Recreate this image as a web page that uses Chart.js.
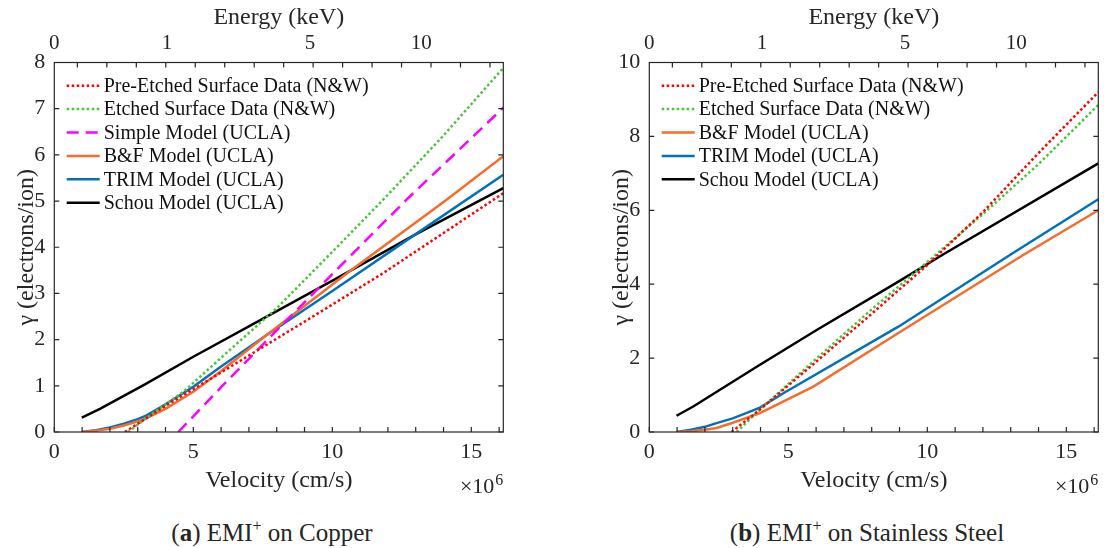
<!DOCTYPE html>
<html>
<head>
<meta charset="utf-8">
<script src="https://cdn.jsdelivr.net/npm/chart.js@4.4.1/dist/chart.umd.min.js"></script>
<style>
body{margin:0;background:#fff;width:1104px;height:548px;position:relative;overflow:hidden;font-family:"Liberation Serif",serif;color:#262626}
canvas{position:absolute;top:0}
#cu{left:0}
#ss{left:595px}
.cap{position:absolute;top:520px;font-size:25px;line-height:25px;white-space:nowrap;transform:translateX(-50%)}
.cap sup{font-size:16px;line-height:0;vertical-align:10px}
</style>
</head>
<body>
<canvas id="cu" width="509" height="500"></canvas>
<canvas id="ss" width="509" height="500"></canvas>
<div class="cap" style="left:272px">(<b>a</b>) EMI<sup>+</sup> on Copper</div>
<div class="cap" style="left:867px">(<b>b</b>) EMI<sup>+</sup> on Stainless Steel</div>
<script>
/* velocity in units of 1e6 cm/s, yield in electrons/ion */

// copper
const cuPreV=[2.54,4.04,5.48,7.04,8.84,11.83,14.23,16.15];
const cuPreY=[0,0.58,1.10,1.67,2.33,3.44,4.40,5.17];
const cuEtchV=[2.65,3.44,4.64,6.3,8.0,10.0,11.83,14.0,16.15];
const cuEtchY=[0,0.36,0.87,1.77,2.68,3.90,5.03,6.42,7.88];
const cuSimpleV=[4.46,6,8,10,12.67,16.15];
const cuSimpleY=[0,0.97,2.2,3.42,5.03,7.02];
const cuBFV=[0.99,1.5,2.0,2.5,3.0,3.32,4.0,5.0,6.0,7.64,10.6,14.11,16.15];
const cuBFY=[0,0.03,0.07,0.14,0.23,0.30,0.50,0.87,1.32,2.10,3.47,5.03,5.97];
const cuTrimV=[0.99,1.5,2.0,2.5,3.0,3.32,4.0,5.0,6.0,7.64,10.04,13.04,16.15];
const cuTrimY=[0,0.04,0.10,0.18,0.28,0.36,0.60,0.98,1.42,2.10,3.07,4.30,5.57];
const cuSchouV=[0.99,1.64,3.26,5.0,7.64,10.04,13.03,16.15];
const cuSchouY=[0.31,0.50,1.03,1.63,2.50,3.29,4.29,5.28];

// stainless steel
const ssPreV=[2.96,4.0,6.0,8.0,10.0,12.0,14.0,16.15];
const ssPreY=[0,0.62,1.90,3.20,4.52,5.95,7.55,9.20];
const ssEtchV=[3.14,4.0,6.0,8.0,10.0,12.0,14.0,16.15];
const ssEtchY=[0,0.62,1.98,3.32,4.60,5.90,7.25,8.85];
const ssBFV=[0.98,1.5,2.0,2.42,3.0,3.98,5.9,8.96,13.45,16.15];
const ssBFY=[0,0.02,0.06,0.11,0.25,0.51,1.23,2.68,4.79,6.0];
const ssTrimV=[0.98,1.5,2.0,2.42,3.0,3.62,3.98,4.82,8.96,12.97,16.15];
const ssTrimY=[0,0.06,0.14,0.24,0.37,0.55,0.66,1.05,2.85,4.79,6.3];
const ssSchouV=[0.98,1.58,3.98,6.02,8.96,10.58,16.15];
const ssSchouY=[0.44,0.69,1.82,2.76,4.07,4.81,7.27];

// axes
const V_MAX=16.15;
const velTicks=[0,1,2,3,4,5,6,7,8,9,10,11,12,13,14,15,16];
const energyLabels=["0","1","5","10"];
const energyVel=[0,4.05,9.2,13.2];
const energyMinor=[0.83,1.89,2.95,4.01,5.07,6.13,7.19,8.25,9.31,10.37,11.43,12.49,13.55,14.61,15.67];

const INK="#262626";
const RED="#ff0000",GREEN="#4cc43a",MAGENTA="#ff00ff",ORANGE="#f76c2d",BLUE="#0072bd",BLACK="#000000";
const DOT=[2.5,2.5],DASH=[12,7];
const SERIF='"Liberation Serif", serif';

Chart.defaults.font.family=SERIF;
Chart.defaults.color=INK;

function series(label,v,g,color,dash){
  return {
    label,
    data:v.map((x,i)=>({x,y:g[i]})),
    borderColor:color,
    borderWidth:2.5,
    borderDash:dash||[],
    pointRadius:0,
    tension:0,
    fill:false
  };
}

// box with inward ticks on all four sides
const frame={
  id:"frame",
  afterDraw(chart){
    const {ctx,chartArea:a,scales}=chart;
    const t=5;
    ctx.save();
    ctx.strokeStyle=INK;
    ctx.lineWidth=1.2;
    ctx.strokeRect(a.left,a.top,a.right-a.left,a.bottom-a.top);
    ctx.beginPath();
    velTicks.forEach(v=>{
      const x=scales.x.getPixelForValue(v);
      ctx.moveTo(x,a.bottom);ctx.lineTo(x,a.bottom-t);
    });
    energyMinor.forEach(v=>{
      if(v>=V_MAX)return;
      const x=scales.xTop.getPixelForValue(v);
      ctx.moveTo(x,a.top);ctx.lineTo(x,a.top+t);
    });
    scales.y.ticks.forEach(tk=>{
      const y=scales.y.getPixelForValue(tk.value);
      ctx.moveTo(a.left,y);ctx.lineTo(a.left+t,y);
      ctx.moveTo(a.right,y);ctx.lineTo(a.right-t,y);
    });
    ctx.stroke();
    // exponent under the velocity axis
    ctx.fillStyle=INK;
    ctx.textAlign="right";
    ctx.textBaseline="alphabetic";
    ctx.font="22px "+SERIF;
    ctx.fillText("\u00d710",a.right-9,a.bottom+61);
    ctx.font="16px "+SERIF;
    ctx.fillText("6",a.right,a.bottom+53);
    ctx.restore();
  }
};

// legend drawn inside the plot, upper left
const innerLegend={
  id:"innerLegend",
  afterDatasetsDraw(chart){
    const {ctx,chartArea:a}=chart;
    const x0=a.left+12.4,y0=a.top+23.2,dy=23.4;
    ctx.save();
    ctx.font="20px "+SERIF;
    ctx.textBaseline="middle";
    ctx.textAlign="left";
    chart.data.datasets.forEach((d,i)=>{
      const y=y0+i*dy;
      ctx.strokeStyle=d.borderColor;
      ctx.lineWidth=d.borderWidth;
      ctx.setLineDash(d.borderDash);
      ctx.beginPath();ctx.moveTo(x0,y);ctx.lineTo(x0+33,y);ctx.stroke();
      ctx.setLineDash([]);
      ctx.fillStyle="#111";
      ctx.fillText(d.label,x0+37,y+1);
    });
    ctx.restore();
  }
};

function makeChart(id,datasets,yMax,yStep){
  return new Chart(document.getElementById(id),{
    type:"line",
    data:{datasets},
    plugins:[frame,innerLegend],
    options:{
      responsive:false,
      animation:false,
      devicePixelRatio:1,
      layout:{padding:{left:0,top:0,bottom:0,right:5.7}},
      plugins:{legend:{display:false},tooltip:{enabled:false}},
      scales:{
        x:{
          type:"linear",position:"bottom",min:0,max:V_MAX,
          afterBuildTicks(s){s.ticks=velTicks.map(v=>({value:v}))},
          afterFit(s){s.height=68},
          grid:{display:false,drawTicks:false},border:{display:false},
          ticks:{autoSkip:false,maxRotation:0,padding:7,font:{size:22},color:INK,
                 callback:v=>v%5===0?String(v):""},
          title:{display:true,text:"Velocity (cm/s)",color:INK,font:{size:24},padding:{top:0,bottom:5}}
        },
        xTop:{
          type:"linear",position:"top",min:0,max:V_MAX,
          afterBuildTicks(s){s.ticks=energyVel.map(v=>({value:v}))},
          afterFit(s){s.height=62.5},
          grid:{display:false,drawTicks:false},border:{display:false},
          ticks:{autoSkip:false,maxRotation:0,padding:6,font:{size:21},color:INK,
                 callback:(v,i)=>energyLabels[i]},
          title:{display:true,text:"Energy (keV)",color:INK,font:{size:24},padding:{top:3,bottom:0}}
        },
        y:{
          type:"linear",position:"left",min:0,max:yMax,
          afterFit(s){s.width=54.3},
          grid:{display:false,drawTicks:false},border:{display:false},
          ticks:{stepSize:yStep,padding:9,font:{size:22},color:INK},
          title:{display:true,text:"\u03b3 (electrons/ion)",color:INK,font:{size:24},padding:{top:12,bottom:0}}
        }
      }
    }
  });
}

function drawAll(){
  makeChart("cu",[
    series("Pre-Etched Surface Data (N&W)",cuPreV,cuPreY,RED,DOT),
    series("Etched Surface Data (N&W)",cuEtchV,cuEtchY,GREEN,DOT),
    series("Simple Model (UCLA)",cuSimpleV,cuSimpleY,MAGENTA,DASH),
    series("B&F Model (UCLA)",cuBFV,cuBFY,ORANGE),
    series("TRIM Model (UCLA)",cuTrimV,cuTrimY,BLUE),
    series("Schou Model (UCLA)",cuSchouV,cuSchouY,BLACK)
  ],8,1);

  makeChart("ss",[
    series("Pre-Etched Surface Data (N&W)",ssPreV,ssPreY,RED,DOT),
    series("Etched Surface Data (N&W)",ssEtchV,ssEtchY,GREEN,DOT),
    series("B&F Model (UCLA)",ssBFV,ssBFY,ORANGE),
    series("TRIM Model (UCLA)",ssTrimV,ssTrimY,BLUE),
    series("Schou Model (UCLA)",ssSchouV,ssSchouY,BLACK)
  ],10,2);
}

// make sure the serif face is ready before the canvases get their text
if(document.fonts&&document.fonts.load){
  Promise.all([document.fonts.load("22px "+SERIF),document.fonts.load("bold 22px "+SERIF)])
    .then(drawAll,drawAll);
}else{
  drawAll();
}
</script>
</body>
</html>
